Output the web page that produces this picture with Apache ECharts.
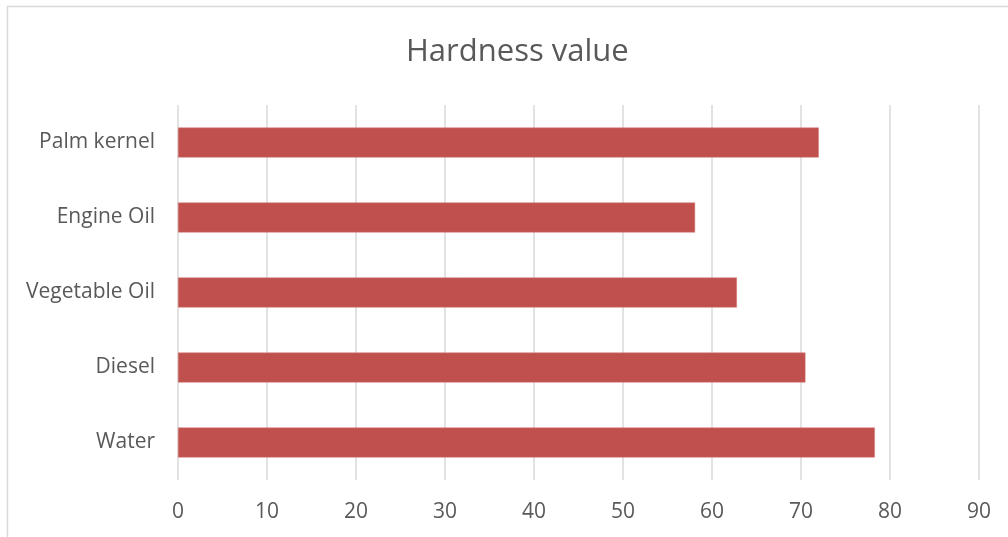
<!DOCTYPE html>
<html>
<head>
<meta charset="utf-8">
<script src="https://cdn.jsdelivr.net/npm/echarts@6/dist/echarts.min.js"></script>
<style>
  html, body { margin: 0; padding: 0; background: #fff; }
  #chart { width: 1008px; height: 537px; }
</style>
</head>
<body>
<div id="chart"></div>
<script>
// Hardness readings per quenching medium
const categories = ['Water', 'Diesel', 'Vegetable Oil', 'Engine Oil', 'Palm kernel'];
const hardness = [78.3, 70.5, 62.8, 58.1, 72];
const xTicks = { min: 0, max: 90, interval: 10 };

const chart = echarts.init(document.getElementById('chart'));
const textColor = '#595959';
const font = '"Open Sans", "Liberation Sans", sans-serif';

chart.setOption({
  animation: false,
  backgroundColor: '#ffffff',
  title: {
    text: 'Hardness value',
    left: 401,
    top: 32,
    textStyle: { color: textColor, fontSize: 31, fontWeight: 'normal', fontFamily: font }
  },
  graphic: [{
    type: 'rect',
    shape: { x: 7.5, y: 6.5, width: 1100, height: 600 },
    style: { fill: 'none', stroke: '#d9d9d9', lineWidth: 1.5 },
    silent: true,
    z: -1
  }],
  grid: { left: 178, right: 29, top: 105, bottom: 57 },
  xAxis: {
    type: 'value',
    min: xTicks.min,
    max: xTicks.max,
    interval: xTicks.interval,
    axisLine: { show: false },
    axisTick: { show: false },
    splitLine: { lineStyle: { color: '#d9d9d9', width: 1.5 } },
    axisLabel: { color: textColor, fontSize: 21, fontFamily: font, margin: 22 }
  },
  yAxis: {
    type: 'category',
    data: categories,
    axisLine: { show: false },
    axisTick: { show: false },
    axisLabel: { color: textColor, fontSize: 21, fontFamily: font, margin: 23, padding: [4, 0, 0, 0] }
  },
  series: [{
    type: 'bar',
    data: hardness,
    barWidth: 30,
    itemStyle: { color: '#c0504d', borderColor: '#d77c79', borderWidth: 0.5 }
  }]
});
</script>
</body>
</html>
